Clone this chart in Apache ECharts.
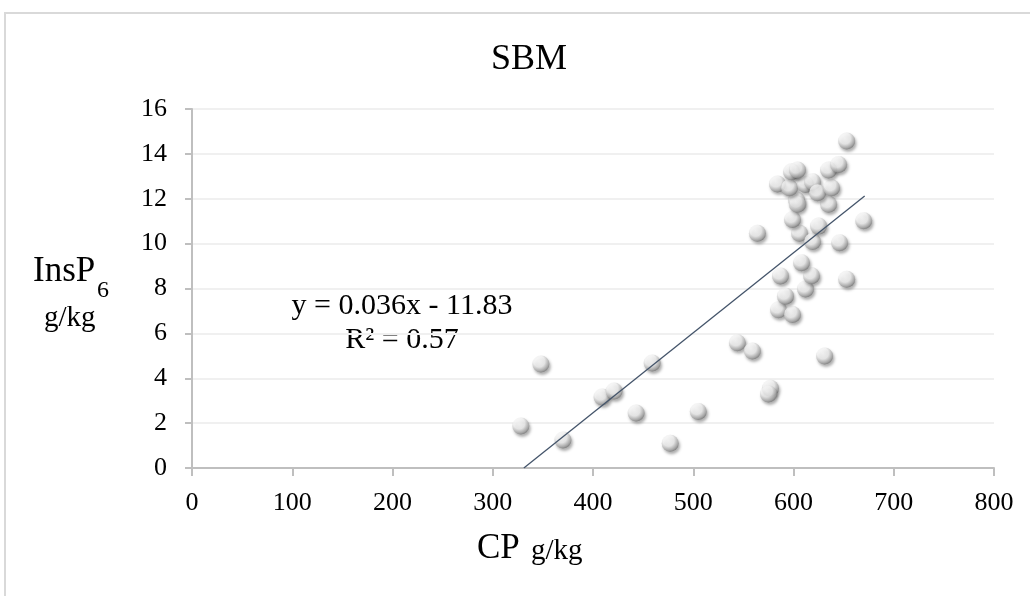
<!DOCTYPE html>
<html>
<head>
<meta charset="utf-8">
<script src="https://cdn.jsdelivr.net/npm/echarts@6/dist/echarts.min.js"></script>
<style>
    html, body { margin: 0; padding: 0; background: #fff; }
    #chart { width: 1030px; height: 596px; }
</style>
</head>
<body>
<div id="chart"></div>
<script>
// CP (g/kg) and InsP6 (g/kg), one pair per sample
var cpValues = [328, 370, 348, 409, 421, 443, 459, 477, 505, 544, 559, 577, 575, 631,
    585, 599, 592, 612, 587, 618, 653, 608, 564, 606, 619, 646, 625, 599, 670,
    603, 604, 635, 584, 596, 612, 619, 624, 638, 598, 604, 635, 645, 653];
var insp6Values = [1.87, 1.25, 4.63, 3.16, 3.43, 2.45, 4.68, 1.1, 2.52, 5.58, 5.21, 3.55, 3.3, 4.99,
    7.05, 6.84, 7.66, 7.98, 8.56, 8.57, 8.41, 9.15, 10.46, 10.46, 10.09, 10.04, 10.78, 11.08, 11.02,
    11.94, 11.75, 11.75, 12.66, 12.49, 12.64, 12.76, 12.27, 12.49, 13.2, 13.28, 13.28, 13.53, 14.57];

// linear trendline end points
var trendX = [331, 671];
var trendY = [0, 12.12];

var xTicks = { min: 0, max: 800, step: 100 };
var yTicks = { min: 0, max: 16, step: 2 };

var titleText = 'SBM';
var equationLines = ['y = 0.036x - 11.83', 'R² = 0.57'];

var serif = 'Liberation Serif';

var points = cpValues.map(function(v, i) { return [v, insp6Values[i]]; });
var trend = trendX.map(function(v, i) { return [v, trendY[i]]; });

var chart = echarts.init(document.getElementById('chart'));
var option = {
    animation: false,
    backgroundColor: '#fff',
    title: {
        text: titleText,
        left: 524,
        top: 37,
        textAlign: 'center',
        textStyle: { fontFamily: serif, fontSize: 36, fontWeight: 'normal', color: '#000' }
    },
    grid: { left: 192, right: 36, top: 109, bottom: 128 },
    xAxis: {
        type: 'value',
        min: xTicks.min,
        max: xTicks.max,
        interval: xTicks.step,
        axisLine: { lineStyle: { color: '#bfbfbf', width: 2 } },
        axisTick: { show: true, length: 8, lineStyle: { color: '#bfbfbf', width: 2 } },
        splitLine: { show: false },
        axisLabel: { margin: 22, color: '#000', fontFamily: serif, fontSize: 26 }
    },
    yAxis: {
        type: 'value',
        min: yTicks.min,
        max: yTicks.max,
        interval: yTicks.step,
        axisLine: { show: true, lineStyle: { color: '#bfbfbf', width: 2 } },
        axisTick: { show: true, length: 7, lineStyle: { color: '#bfbfbf', width: 2 } },
        splitLine: { lineStyle: { color: '#f0f0f0', width: 2 } },
        axisLabel: { margin: 25, color: '#000', fontFamily: serif, fontSize: 26 }
    },
    graphic: {
        elements: [
            {
                type: 'rect',
                silent: true,
                shape: { x: 5, y: 13, width: 1200, height: 800 },
                style: { fill: 'none', stroke: '#d9d9d9', lineWidth: 2 }
            },
            {
                type: 'text', left: 33, top: 254,
                style: { text: 'InsP', font: '35px "Liberation Serif"', fill: '#000' }
            },
            {
                type: 'text', left: 97, top: 279,
                style: { text: '6', font: '24px "Liberation Serif"', fill: '#000' }
            },
            {
                type: 'text', left: 44, top: 304,
                style: { text: 'g/kg', font: '29px "Liberation Serif"', fill: '#000' }
            },
            {
                type: 'text', left: 477, top: 531,
                style: { text: 'CP', font: '35px "Liberation Serif"', fill: '#000' }
            },
            {
                type: 'text', left: 531, top: 537,
                style: { text: 'g/kg', font: '29px "Liberation Serif"', fill: '#000' }
            },
            {
                type: 'text', left: 289, top: 289,
                style: {
                    text: equationLines.join('\n'),
                    font: '30px "Liberation Serif"',
                    lineHeight: 34,
                    align: 'center',
                    textAlign: 'center',
                    width: 226,
                    fill: '#000'
                }
            }
        ]
    },
    series: [
        {
            type: 'scatter',
            data: points,
            symbol: 'circle',
            symbolSize: 17,
            z: 2,
            itemStyle: {
                color: {
                    type: 'radial', x: 0.4, y: 0.34, r: 0.74,
                    colorStops: [
                        { offset: 0, color: '#ffffff' },
                        { offset: 0.45, color: '#f0f0f0' },
                        { offset: 0.78, color: '#a3a3a3' },
                        { offset: 1, color: '#575757' }
                    ]
                },
                shadowColor: 'rgba(0,0,0,0.4)',
                shadowBlur: 3,
                shadowOffsetX: 1.5,
                shadowOffsetY: 2.5
            }
        },
        {
            type: 'line',
            data: trend,
            showSymbol: false,
            silent: true,
            z: 3,
            lineStyle: { color: '#44546a', width: 1.3 }
        }
    ]
};
chart.setOption(option);
</script>
</body>
</html>
